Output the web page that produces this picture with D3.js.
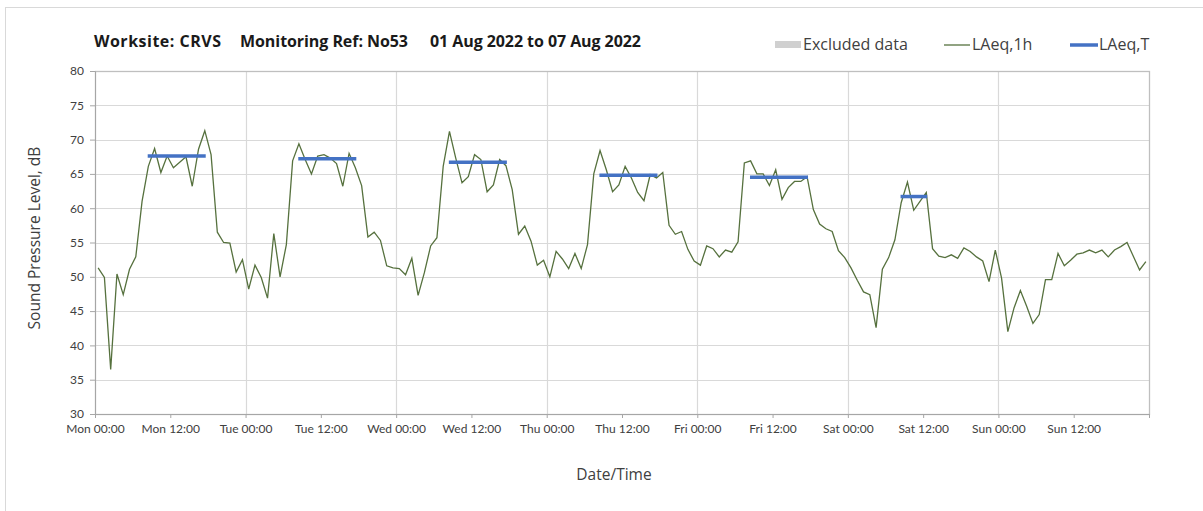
<!DOCTYPE html>
<html>
<head>
<meta charset="utf-8">
<script src="https://cdn.jsdelivr.net/npm/d3@7/dist/d3.min.js"></script>
<style>
  body { margin: 0; background: #fff; }
  svg text { font-family: Lato, "Open Sans", sans-serif; }
  svg text.wide { font-family: "Open Sans", Lato, sans-serif; }
</style>
</head>
<body>
<svg id="chart" width="1203" height="511"></svg>
<script>
// x tick labels, one every 12 hours from Mon 00:00
const tickLabels = [
  'Mon 00:00', 'Mon 12:00', 'Tue 00:00', 'Tue 12:00', 'Wed 00:00', 'Wed 12:00', 'Thu 00:00',
  'Thu 12:00', 'Fri 00:00', 'Fri 12:00', 'Sat 00:00', 'Sat 12:00', 'Sun 00:00', 'Sun 12:00'
];
const yTicks = [30, 35, 40, 45, 50, 55, 60, 65, 70, 75, 80];

// LAeq,1h - one value per hour, Mon 00:00 to Sun 23:00
const hourlyLevels = [
  51.3, 49.9, 36.5, 50.4, 47.4, 51.1, 52.9, 61.0, 66.1, 68.7, 65.2, 67.6, 65.9, 66.7, 67.5, 63.2, 68.6, 71.3, 67.8, 56.5, 55.0, 54.9, 50.7, 52.5,
  48.2, 51.7, 49.9, 46.9, 56.3, 50.0, 54.7, 66.9, 69.4, 67.1, 65.0, 67.6, 67.8, 67.3, 66.5, 63.2, 68.0, 65.9, 63.3, 55.8, 56.5, 55.3, 51.6, 51.3,
  51.2, 50.3, 52.7, 47.3, 50.6, 54.5, 55.7, 66.1, 71.2, 67.3, 63.7, 64.6, 67.8, 67.1, 62.4, 63.4, 67.1, 66.2, 62.7, 56.2, 57.4, 55.2, 51.7, 52.4,
  50.0, 53.7, 52.6, 51.2, 53.4, 51.2, 54.7, 65.0, 68.4, 65.6, 62.4, 63.4, 66.1, 64.4, 62.3, 61.1, 64.9, 64.4, 65.2, 57.5, 56.2, 56.6, 54.0, 52.3,
  51.7, 54.5, 54.1, 52.9, 53.9, 53.6, 55.1, 66.6, 66.9, 65.0, 65.0, 63.3, 65.6, 61.3, 63.0, 63.9, 63.9, 64.6, 59.8, 57.7, 57.0, 56.6, 53.8, 52.8,
  51.3, 49.5, 47.8, 47.4, 42.6, 51.1, 52.8, 55.4, 60.8, 63.8, 59.7, 61.0, 62.3, 54.1, 53.0, 52.8, 53.2, 52.7, 54.2, 53.7, 52.9, 52.3, 49.3, 53.9,
  49.8, 42.0, 45.5, 48.0, 45.7, 43.2, 44.5, 49.6, 49.6, 53.4, 51.6, 52.4, 53.3, 53.5, 53.9, 53.5, 53.9, 52.9, 53.9, 54.4, 55.0, 53.0, 51.0, 52.2
];

// LAeq,T - working period per day (day index, start hour, end hour, level)
const periodDays = [0, 1, 2, 3, 4, 5];
const periodStarts = [8, 8, 8, 8, 8, 8];
const periodEnds = [18, 18, 18, 18, 18, 13];
const periodLevels = [67.6, 67.2, 66.7, 64.8, 64.5, 61.7];

const svg = d3.select('#chart');
const margin = {left: 95, right: 54, top: 71, bottom: 97};
const width = 1203 - margin.left - margin.right;
const height = 511 - margin.top - margin.bottom;

// outer chart frame
svg.append('rect')
  .attr('x', 5.5).attr('y', 7.5)
  .attr('width', 1210).attr('height', 520)
  .attr('fill', 'none').attr('stroke', '#d9d9d9');

const x = d3.scaleLinear().domain([0, 168]).range([0, width]);
const y = d3.scaleLinear().domain([30, 80]).range([height, 0]);

const g = svg.append('g').attr('transform', `translate(${margin.left},${margin.top})`);

// horizontal gridlines
g.selectAll('.hgrid')
  .data(yTicks)
  .join('line')
  .attr('class', 'hgrid')
  .attr('x1', 0).attr('x2', width)
  .attr('y1', d => Math.round(y(d)) + 0.5).attr('y2', d => Math.round(y(d)) + 0.5)
  .attr('stroke', '#d9d9d9').attr('stroke-width', 1.2);

// vertical gridlines at midnight
g.selectAll('.vgrid')
  .data(d3.range(24, 168, 24))
  .join('line')
  .attr('class', 'vgrid')
  .attr('x1', d => Math.round(x(d)) + 0.5).attr('x2', d => Math.round(x(d)) + 0.5)
  .attr('y1', 0).attr('y2', height)
  .attr('stroke', '#d9d9d9').attr('stroke-width', 1.2);

// plot border
g.append('rect')
  .attr('x', 0.5).attr('y', 0.5)
  .attr('width', width).attr('height', height)
  .attr('fill', 'none').attr('stroke', '#bfbfbf').attr('stroke-width', 1.3);

// y axis
const yAxis = g.append('g')
  .call(d3.axisLeft(y).tickValues(yTicks).tickSize(5).tickPadding(6).tickFormat(d3.format('d')));
yAxis.select('.domain').attr('stroke', '#a6a6a6');
yAxis.selectAll('.tick line').attr('stroke', '#a6a6a6');
yAxis.selectAll('.tick text').attr('fill', '#404040').style('font-size', '12px');

// x axis
const xAxis = g.append('g')
  .attr('transform', `translate(0,${height})`)
  .call(d3.axisBottom(x)
    .tickValues(d3.range(0, 169, 12))
    .tickSize(4).tickPadding(6)
    .tickFormat((d, i) => tickLabels[i] || ''));
xAxis.select('.domain').attr('stroke', '#a6a6a6');
xAxis.selectAll('.tick line').attr('stroke', '#a6a6a6');
xAxis.selectAll('.tick text').attr('fill', '#404040').style('font-size', '12px');

// LAeq,1h line, each value plotted at the middle of its hour
const line = d3.line()
  .x((d, i) => x(i + 0.5))
  .y(d => y(d));

g.append('path')
  .datum(hourlyLevels)
  .attr('d', line)
  .attr('fill', 'none')
  .attr('stroke', '#56713e')
  .attr('stroke-width', 1.3)
  .attr('stroke-linejoin', 'miter');

// LAeq,T bars
g.selectAll('.laeqT')
  .data(periodLevels)
  .join('line')
  .attr('class', 'laeqT')
  .attr('x1', (d, i) => x(periodDays[i] * 24 + periodStarts[i] + 0.4))
  .attr('x2', (d, i) => x(periodDays[i] * 24 + periodEnds[i] - 0.35))
  .attr('y1', d => y(d)).attr('y2', d => y(d))
  .attr('stroke', '#4472c4')
  .attr('stroke-width', 3.5);

// title
const title = svg.append('g')
  .style('font-size', '16px').style('font-weight', 'bold').attr('fill', '#1a1a1a');
title.append('text').attr('class', 'wide').attr('x', 94).attr('y', 47)
  .attr('textLength', 127).text('Worksite: CRVS');
title.append('text').attr('class', 'wide').attr('x', 240).attr('y', 47)
  .attr('textLength', 168).text('Monitoring Ref: No53');
title.append('text').attr('class', 'wide').attr('x', 430).attr('y', 47)
  .attr('textLength', 211).text('01 Aug 2022 to 07 Aug 2022');

// legend
const legend = svg.append('g').style('font-size', '16px').attr('fill', '#404040');
legend.append('rect')
  .attr('x', 775).attr('y', 41).attr('width', 26).attr('height', 7)
  .attr('fill', '#d0d0d0');
legend.append('text').attr('class', 'wide').attr('x', 803).attr('y', 50).text('Excluded data');
legend.append('line')
  .attr('x1', 944).attr('x2', 970).attr('y1', 45).attr('y2', 45)
  .attr('stroke', '#56713e').attr('stroke-width', 1.3);
legend.append('text').attr('class', 'wide').attr('x', 972).attr('y', 50).text('LAeq,1h');
legend.append('line')
  .attr('x1', 1070).attr('x2', 1098).attr('y1', 45).attr('y2', 45)
  .attr('stroke', '#4472c4').attr('stroke-width', 3.5);
legend.append('text').attr('class', 'wide').attr('x', 1099).attr('y', 50).text('LAeq,T');

// axis titles
svg.append('text')
  .attr('class', 'wide')
  .attr('x', 614).attr('y', 480)
  .attr('text-anchor', 'middle')
  .style('font-size', '15.5px').attr('fill', '#404040')
  .text('Date/Time');

svg.append('text')
  .attr('class', 'wide')
  .attr('transform', `translate(40,238) rotate(-90)`)
  .attr('text-anchor', 'middle')
  .style('font-size', '15.5px').attr('fill', '#404040')
  .text('Sound Pressure Level, dB');
</script>
</body>
</html>
